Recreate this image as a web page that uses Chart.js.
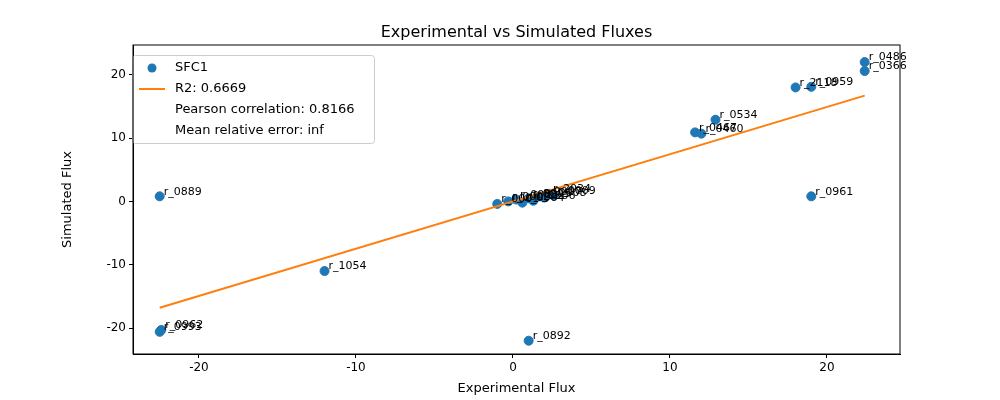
<!DOCTYPE html>
<html>
<head>
<meta charset="utf-8">
<script src="https://cdn.jsdelivr.net/npm/chart.js@4/dist/chart.umd.min.js"></script>
<style>
  html, body { margin: 0; padding: 0; background: #fff; }
  #wrap { width: 1000px; height: 400px; }
</style>
</head>
<body>
<div id="wrap"><canvas id="c" width="1000" height="400"></canvas></div>
<script>
// reaction ids and fluxes
const reactions = ['r_0486', 'r_0366', 'r_2118', 'r_0959', 'r_0534', 'r_0467', 'r_0460',
  'r_0889', 'r_0961', 'r_1054', 'r_0962', 'r_0993', 'r_0892',
  'r_0001', 'r_0002', 'r_0003', 'r_0004', 'r_0005', 'r_0006', 'r_0007', 'r_0008', 'r_2034', 'r_0009'];
const experimental = [22.4, 22.4, 18.0, 19.0, 12.9, 11.6, 12.0,
  -22.5, 19.0, -12.0, -22.4, -22.5, 1.0,
  -1.0, -0.3, 0.2, 0.6, 1.0, 1.3, 1.7, 2.0, 2.3, 2.6];
const simulated = [22.0, 20.6, 18.0, 18.1, 12.9, 10.9, 10.7,
  0.8, 0.8, -11.0, -20.3, -20.6, -22.0,
  -0.4, 0.0, 0.3, -0.2, 0.5, 0.1, 0.8, 0.6, 1.2, 0.9];
const fitX = [-22.5, 22.4];
const fitY = [-16.8, 16.7];
const legendLabels = ['SFC1', 'R2: 0.6669', 'Pearson correlation: 0.8166', 'Mean relative error: inf'];
const titleText = 'Experimental vs Simulated Fluxes';
const xTicks = [-20, -10, 0, 10, 20];
const yTicks = [-20, -10, 0, 10, 20];

const font = 'DejaVu Sans';

const pointLabels = {
  id: 'pointLabels',
  afterDatasetsDraw(chart) {
    const { ctx } = chart;
    ctx.save();
    ctx.font = '11px ' + font;
    ctx.fillStyle = '#000';
    ctx.textBaseline = 'bottom';
    chart.getDatasetMeta(0).data.forEach((pt, i) => {
      ctx.fillText(reactions[i], pt.x + 4, pt.y + 1);
    });
    ctx.restore();
  }
};

const mplLegend = {
  id: 'mplLegend',
  afterDraw(chart) {
    const { ctx, chartArea } = chart;
    const x = chartArea.left - 1, y = chartArea.top + 10;
    const w = 242, h = 88;
    ctx.save();
    ctx.fillStyle = 'rgba(255,255,255,0.8)';
    ctx.strokeStyle = '#ccc';
    ctx.lineWidth = 1;
    ctx.beginPath();
    ctx.roundRect(x + 0.5, y + 0.5, w, h, 3);
    ctx.fill();
    ctx.stroke();
    ctx.font = '13px ' + font;
    ctx.textBaseline = 'middle';
    legendLabels.forEach((t, i) => {
      const ly = y + 13 + i * 21;
      if (i === 0) {
        ctx.fillStyle = '#1f77b4';
        ctx.beginPath();
        ctx.arc(x + 20, ly, 4.5, 0, Math.PI * 2);
        ctx.fill();
      } else if (i === 1) {
        ctx.strokeStyle = '#ff7f0e';
        ctx.lineWidth = 2;
        ctx.beginPath();
        ctx.moveTo(x + 7, ly);
        ctx.lineTo(x + 33, ly);
        ctx.stroke();
      }
      ctx.fillStyle = '#000';
      ctx.fillText(t, x + 43, ly);
    });
    ctx.restore();
  }
};

const titleAndFrame = {
  id: 'titleAndFrame',
  afterDraw(chart) {
    const { ctx, chartArea: a } = chart;
    ctx.save();
    ctx.strokeStyle = '#000';
    ctx.lineWidth = 1;
    ctx.strokeRect(a.left, a.top, a.right - a.left, a.bottom - a.top);
    ctx.font = '16px ' + font;
    ctx.fillStyle = '#000';
    ctx.textAlign = 'center';
    ctx.textBaseline = 'bottom';
    ctx.fillText(titleText, (a.left + a.right) / 2, a.top - 4);
    ctx.restore();
  }
};

new Chart(document.getElementById('c'), {
  type: 'scatter',
  data: {
    datasets: [
      {
        label: legendLabels[0],
        data: experimental.map((v, i) => ({ x: v, y: simulated[i] })),
        backgroundColor: '#1f77b4',
        borderColor: '#1f77b4',
        pointRadius: 4.5,
        order: 2
      },
      {
        label: legendLabels[1],
        type: 'line',
        data: fitX.map((v, i) => ({ x: v, y: fitY[i] })),
        borderColor: '#ff7f0e',
        borderWidth: 2,
        pointRadius: 0,
        order: 1
      }
    ]
  },
  options: {
    responsive: false,
    animation: false,
    layout: { padding: { top: 45, right: 100, bottom: 0, left: 60 } },
    plugins: {
      legend: { display: false },
      tooltip: { enabled: false },
      title: { display: false }
    },
    scales: {
      x: {
        min: -24.2, max: 24.65,
        afterBuildTicks: s => { s.ticks = xTicks.map(v => ({ value: v })); },
        grid: { drawOnChartArea: false, tickLength: 4, tickColor: '#000' },
        border: { color: '#000' },
        ticks: { color: '#000', font: { family: font, size: 12 }, padding: 3 },
        title: { display: true, text: 'Experimental Flux', color: '#000', font: { family: font, size: 13 }, padding: { top: 2, bottom: 4 } }
      },
      y: {
        min: -24.1, max: 24.7,
        afterBuildTicks: s => { s.ticks = yTicks.map(v => ({ value: v })); },
        afterFit: s => { s.width = 73; },
        grid: { drawOnChartArea: false, tickLength: 4, tickColor: '#000' },
        border: { color: '#000' },
        ticks: { color: '#000', font: { family: font, size: 12 }, padding: 3 },
        title: { display: true, text: 'Simulated Flux', color: '#000', font: { family: font, size: 13 }, padding: { top: 0, bottom: 4 } }
      }
    }
  },
  plugins: [pointLabels, mplLegend, titleAndFrame]
});
</script>
</body>
</html>
